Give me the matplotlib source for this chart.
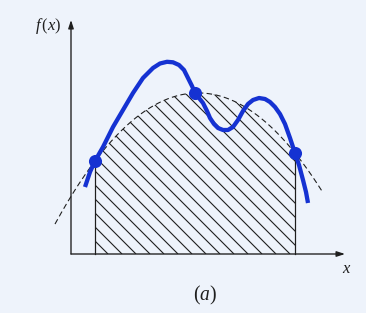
# simpson_fig.py — Simpson's 1/3 rule sketch: f(x), the parabola through three nodes, hatched area

import numpy as np
import matplotlib
import matplotlib.pyplot as plt
from matplotlib.patches import Polygon
from matplotlib.collections import LineCollection

matplotlib.use("Agg")

# ── 1. Data (units: axis origin at 0) ────────────────────────────────────────

# the wiggly f(x) curve
curve_x = [1.4, 1.9, 2.4, 3.2, 4.2, 5.2, 6.2, 7.2, 8.2, 8.9, 9.6, 10.2, 10.8,
           11.3, 11.7, 12.1, 12.4, 12.8, 13.2, 13.6, 13.9, 14.3, 14.7, 15.2,
           15.7, 16.2, 16.7, 17.2, 17.7, 18.2, 18.8, 19.4, 19.9, 20.4, 20.9,
           21.4, 21.9, 22.4, 22.8, 23.2, 23.5, 23.7]
curve_y = [6.7, 8.2, 9.3, 10.7, 12.7, 14.4, 16.1, 17.6, 18.6, 19.05, 19.22,
           19.17, 18.9, 18.4, 17.6, 16.8, 16.1, 15.6, 15.1, 14.3, 13.6, 13.0,
           12.6, 12.4, 12.4, 12.7, 13.4, 14.3, 15.0, 15.4, 15.6, 15.5, 15.2,
           14.7, 14.0, 13.0, 11.6, 10.1, 8.9, 7.4, 6.2, 5.1]

# the three nodes x0, x1, x2 where the parabola meets f(x)
node_x = [2.4, 12.4, 22.4]
node_y = [9.3, 16.1, 10.1]

# how far the dashed parabola runs past the nodes
dash_start, dash_end = -1.6, 25.1

# axis lengths
x_axis_end = 27.4
y_axis_end = 23.4

axis_label_y = "$f\\,(x)$"
axis_label_x = "$x$"
panel_label = "$(a)$"

# ── 2. Styling ───────────────────────────────────────────────────────────────

DPI = 88
BG = "#eef3fb"
BLUE = "#1532d2"
INK = "#1e1e1e"
HATCH_STEP = 1.4     # gap between hatch lines along the x axis
HATCH_PHASE = 3.7    # where one hatch line meets the x axis

plt.rcParams["mathtext.fontset"] = "custom"
plt.rcParams["mathtext.rm"] = "Liberation Serif"
plt.rcParams["mathtext.it"] = "Liberation Serif:italic"

fig = plt.figure(figsize=(366 / DPI, 313 / DPI), dpi=DPI, facecolor=BG)
ax = fig.add_axes([0, 0, 1, 1])
ax.set_facecolor(BG)
ax.set_xlim(-7.1, 29.5)
ax.set_ylim(-5.9, 25.4)
ax.axis("off")

# ── 3. Parabola through the three nodes ──────────────────────────────────────

coef = np.polyfit(node_x, node_y, 2)
xs_dash = np.linspace(dash_start, dash_end, 300)
ax.plot(xs_dash, np.polyval(coef, xs_dash), color=INK, lw=0.9,
        dashes=(5, 3), zorder=2)

# hatched area under the parabola between x0 and x2 (lines clipped to the area)
xs_fill = np.linspace(node_x[0], node_x[-1], 300)
area = np.column_stack([
    np.concatenate([[node_x[0]], xs_fill, [node_x[-1]]]),
    np.concatenate([[0], np.polyval(coef, xs_fill), [0]]),
])
area_patch = Polygon(area, closed=True, facecolor="none", edgecolor="none")
ax.add_patch(area_patch)

top = 25
starts = np.arange(HATCH_PHASE - 2 * HATCH_STEP, node_x[-1] + top, HATCH_STEP)
segments = [[(c - top, top), (c, 0)] for c in starts]
hatch = LineCollection(segments, colors=INK, linewidths=0.9, zorder=1)
ax.add_collection(hatch)
hatch.set_clip_path(area_patch)

# solid vertical edges of the shaded strip
for xv, yv in [(node_x[0], node_y[0]), (node_x[-1], node_y[-1])]:
    ax.plot([xv, xv], [0, yv], color=INK, lw=1.0, zorder=2)

# ── 4. f(x) curve and nodes ──────────────────────────────────────────────────

ax.plot(curve_x, curve_y, color=BLUE, lw=3.5, solid_joinstyle="round",
        solid_capstyle="butt", zorder=3)
ax.scatter(node_x, node_y, s=115, color=BLUE, zorder=4, linewidths=0)

# ── 5. Axes with arrow heads ─────────────────────────────────────────────────

arrow = dict(arrowstyle="-|>,head_length=0.55,head_width=0.18", lw=1.1,
             color=INK, shrinkA=0, shrinkB=0)
ax.annotate("", xy=(x_axis_end, 0), xytext=(0, 0), arrowprops=arrow, zorder=2)
ax.annotate("", xy=(0, y_axis_end), xytext=(0, 0), arrowprops=arrow, zorder=2)

ax.text(-2.3, 22.8, axis_label_y, fontsize=13.5, ha="center", va="center", color=INK)
ax.text(27.6, -1.4, axis_label_x, fontsize=13.5, ha="center", va="center", color=INK)
ax.text(13.4, -4.1, panel_label, fontsize=16, ha="center", va="center", color=INK)

fig.savefig("out.png", dpi=DPI, facecolor=BG)
